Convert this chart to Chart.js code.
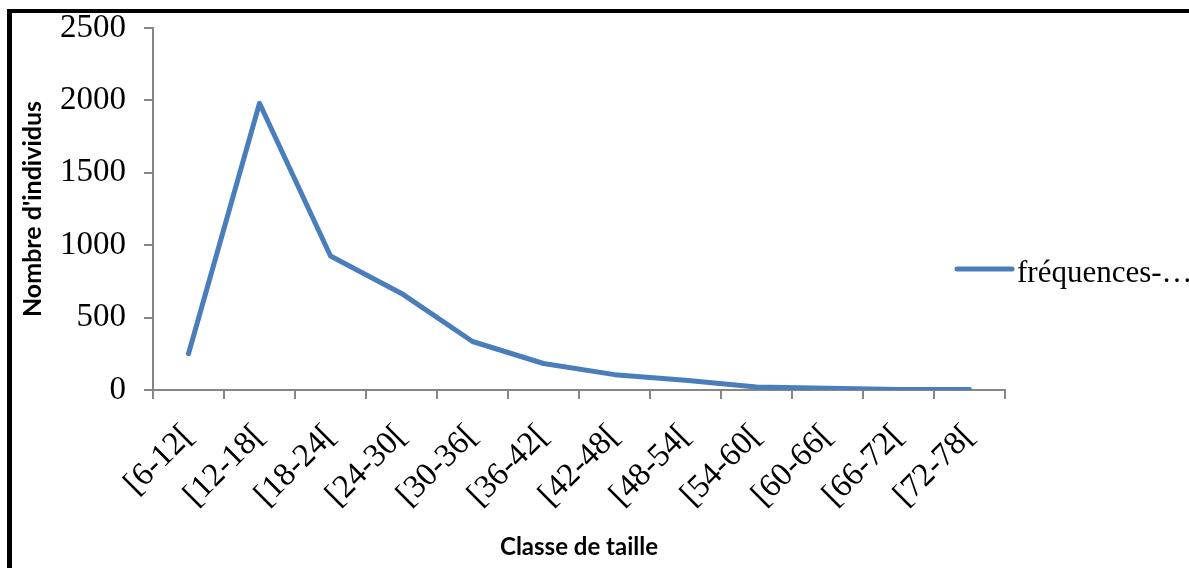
<!DOCTYPE html>
<html>
<head>
<meta charset="utf-8">
<script src="https://cdn.jsdelivr.net/npm/chart.js@4"></script>
<style>
  html, body { margin: 0; padding: 0; background: #fff; }
  #wrap { position: relative; width: 1189px; height: 568px; }
  #frame { position: absolute; left: 7px; top: 9px; right: 0; bottom: 0;
           border-left: 5px solid #000; border-top: 4px solid #000; pointer-events: none; }
</style>
</head>
<body>
<div id="wrap">
  <canvas id="chart" width="1189" height="568"></canvas>
  <div id="frame"></div>
</div>
<script>
const classes = ['[6-12[', '[12-18[', '[18-24[', '[24-30[', '[30-36[', '[36-42[',
                 '[42-48[', '[48-54[', '[54-60[', '[60-66[', '[66-72[', '[72-78['];
const frequences = [250, 1980, 925, 667, 335, 183, 106, 68, 20, 12, 3, 4];
const seriesName = 'fréquences-…';
const yTicks = [0, 500, 1000, 1500, 2000, 2500];

const axisGray = '#868686';
const lineBlue = '#4A7EBB';

// legend sits partly over the plot, so it is drawn by hand
const legendPlugin = {
  id: 'sideLegend',
  afterDraw(chart) {
    const ctx = chart.ctx;
    const ds = chart.data.datasets[0];
    const x0 = chart.chartArea.right - 48;
    const y = 269;
    ctx.save();
    ctx.strokeStyle = ds.borderColor;
    ctx.lineWidth = 5;
    ctx.lineCap = 'round';
    ctx.beginPath();
    ctx.moveTo(x0, y);
    ctx.lineTo(x0 + 55, y);
    ctx.stroke();
    ctx.fillStyle = '#000';
    ctx.font = '31px "Liberation Serif"';
    ctx.textBaseline = 'alphabetic';
    ctx.fillText(ds.label, x0 + 60, y + 13);
    ctx.restore();
  }
};

new Chart(document.getElementById('chart'), {
  type: 'line',
  data: {
    labels: classes,
    datasets: [{
      label: seriesName,
      data: frequences,
      borderColor: lineBlue,
      borderWidth: 5,
      borderCapStyle: 'round',
      borderJoinStyle: 'round',
      pointRadius: 0,
      fill: false,
      tension: 0
    }]
  },
  options: {
    responsive: false,
    animation: false,
    layout: { padding: { top: 28, right: 184, bottom: 0, left: 0 } },
    plugins: {
      legend: { display: false },
      tooltip: { enabled: false }
    },
    scales: {
      x: {
        offset: true,
        afterFit: (s) => { s.height = 178; },
        grid: { offset: true, drawOnChartArea: false, drawTicks: true, tickLength: 9,
                tickColor: axisGray, lineWidth: 2 },
        border: { color: axisGray, width: 2 },
        ticks: { color: '#000', font: { family: 'Liberation Serif', size: 33 },
                 minRotation: 45, maxRotation: 45, padding: 18, autoSkip: false },
        title: { display: true, text: 'Classe de taille', color: '#000',
                 font: { family: 'Lato', weight: 'bold', size: 24 },
                 padding: { top: 0, bottom: 6 } }
      },
      y: {
        min: 0,
        max: 2500,
        afterFit: (s) => { s.width = 153; s.paddingTop = 0; s.paddingBottom = 0; },
        afterBuildTicks: (s) => { s.ticks = yTicks.map(v => ({ value: v })); },
        grid: { drawOnChartArea: false, drawTicks: true, tickLength: 9,
                tickColor: axisGray, lineWidth: 2 },
        border: { color: axisGray, width: 2 },
        ticks: { color: '#000', font: { family: 'Liberation Serif', size: 33 }, padding: 18,
                 callback: (v) => String(v) },
        title: { display: true, text: "Nombre d'individus", color: '#000',
                 font: { family: 'Lato', weight: 'bold', size: 25 },
                 padding: { top: 18, bottom: 0 } }
      }
    }
  },
  plugins: [legendPlugin]
});
</script>
</body>
</html>
